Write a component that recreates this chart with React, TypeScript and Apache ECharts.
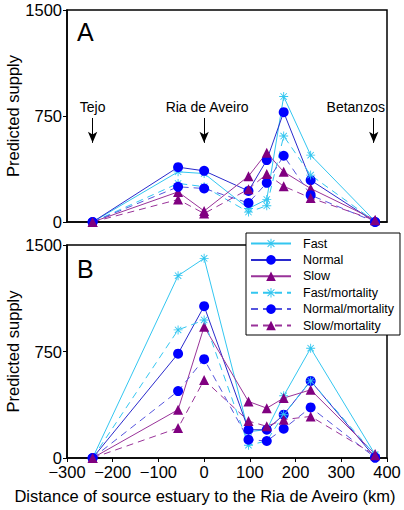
import React, { useEffect, useRef } from "react";
import * as echarts from "echarts";

const distanceKm = [-244, -57, 0, 97, 137, 174, 233, 374];
const seriesNames = ["Fast", "Normal", "Slow", "Fast/mortality", "Normal/mortality", "Slow/mortality"];

// Panel A
const aFast = [0, 355, 343, 95, 160, 888, 473, 5];
const aNormal = [0, 388, 362, 220, 438, 777, 296, 0];
const aSlow = [0, 213, 78, 324, 490, 355, 237, 15];
const aFastMort = [0, 273, 250, 70, 115, 608, 332, 3];
const aNormalMort = [0, 249, 237, 135, 277, 469, 190, 0];
const aSlowMort = [0, 159, 60, 232, 340, 253, 170, 12];

// Panel B
const bFast = [0, 1284, 1406, 185, 200, 438, 773, 25];
const bNormal = [0, 735, 1069, 199, 199, 305, 543, 3];
const bSlow = [0, 340, 925, 398, 351, 422, 480, 28];
const bFastMort = [0, 902, 972, 90, 120, 305, 543, 20];
const bNormalMort = [0, 471, 696, 129, 120, 206, 356, 3];
const bSlowMort = [0, 211, 550, 260, 223, 270, 293, 20];

const yTicks = [0, 750, 1500];
const xTicks = [-300, -200, -100, 0, 100, 200, 300, 400];

const estuaries = [
  { name: "Tejo", km: -244 },
  { name: "Ria de Aveiro", km: 0 },
  { name: "Betanzos", km: 371 },
];
const arrowTop = 736;
const arrowBottom = 560;

const FONT = "'Liberation Sans', Arial, sans-serif";
const STAR =
  "path://M9 0 H11 V20 H9 Z M0 9 H20 V11 H0 Z M2.2 3.6 L3.6 2.2 L17.8 16.4 L16.4 17.8 Z M16.4 2.2 L17.8 3.6 L3.6 17.8 L2.2 16.4 Z";

const styles = [
  { line: "#33c6f0", marker: "#33c6f0", symbol: STAR, size: 9, dashed: false },
  { line: "#2a2acc", marker: "#0000ff", symbol: "circle", size: 10, dashed: false },
  { line: "#993399", marker: "#800080", symbol: "triangle", size: 10, dashed: false },
  { line: "#33c6f0", marker: "#33c6f0", symbol: STAR, size: 9, dashed: true },
  { line: "#5555dd", marker: "#0000ff", symbol: "circle", size: 10, dashed: true },
  { line: "#993399", marker: "#800080", symbol: "triangle", size: 10, dashed: true },
];

export default function App() {
  const ref = useRef<HTMLDivElement>(null);
  useEffect(() => {
    if (!ref.current) return;
    const chart = echarts.init(ref.current, null, { renderer: "svg" });
    const panels = [
      [aFast, aNormal, aSlow, aFastMort, aNormalMort, aSlowMort],
      [bFast, bNormal, bSlow, bFastMort, bNormalMort, bSlowMort],
    ];
    const series: any[] = [];
    panels.forEach((vals, p) => {
      vals.forEach((v, i) => {
        const s = styles[i];
        series.push({
          type: "line",
          name: seriesNames[i],
          xAxisIndex: p,
          yAxisIndex: p,
          data: distanceKm.map((x, k) => [x, v[k]]),
          symbol: s.symbol,
          symbolSize: s.size,
          showAllSymbol: true,
          lineStyle: { color: s.line, width: 1, type: s.dashed ? [7, 5] : "solid" },
          itemStyle: { color: s.marker, borderWidth: 0 },
          emphasis: { disabled: true },
        });
      });
    });
    series.push({
      type: "line",
      name: "annotations",
      xAxisIndex: 0,
      yAxisIndex: 0,
      data: [],
      markLine: {
        silent: true,
        symbol: ["none", "arrow"],
        symbolSize: [7, 11],
        lineStyle: { color: "#000", width: 1, type: "solid" },
        label: {
          show: true,
          position: "start",
          formatter: "{b}",
          color: "#000",
          fontSize: 14,
          fontFamily: FONT,
          distance: 4,
        },
        data: estuaries.map((e) => [
          {
            name: e.name,
            coord: [e.km, arrowTop],
            label: e.name === "Betanzos" ? { offset: [-18, 0] } : e.name === "Ria de Aveiro" ? { offset: [3, 0] } : {},
          },
          { coord: [e.km, arrowBottom] },
        ]),
      },
    });

    const yAxis = (gi: number) => ({
      type: "value",
      gridIndex: gi,
      min: yTicks[0],
      max: yTicks[yTicks.length - 1],
      interval: 750,
      name: "Predicted supply",
      nameLocation: "middle",
      nameGap: 46,
      nameMoveOverlap: false,
      nameTextStyle: { fontSize: 16.5, color: "#000", fontFamily: FONT },
      axisLine: { show: true, onZero: false, lineStyle: { color: "#000", width: 1.5 } },
      axisTick: { show: true, length: 4, lineStyle: { color: "#000" } },
      axisLabel: { fontSize: 16.5, lineHeight: 12, color: "#000", fontFamily: FONT, margin: 5, formatter: (v: number) => String(v) },
      splitLine: { show: false },
    });
    const xAxis = (gi: number, labels: boolean) => ({
      type: "value",
      gridIndex: gi,
      min: xTicks[0],
      max: xTicks[xTicks.length - 1],
      interval: 100,
      name: labels ? "Distance of source estuary to the Ria de Aveiro (km)" : "",
      nameLocation: "middle",
      nameGap: 29,
      nameTextStyle: { fontSize: 16.5, color: "#000", fontFamily: FONT, padding: [0, 44, 0, 0] },
      axisLine: { show: true, onZero: false, lineStyle: { color: "#000", width: 1.5 } },
      axisTick: { show: labels, length: 4, lineStyle: { color: "#000" } },
      axisLabel: {
        show: labels,
        fontSize: 16.5,
        lineHeight: 14,
        color: "#000",
        fontFamily: FONT,
        margin: 7,
        formatter: (v: number) => (v < 0 ? "\u2212" + Math.abs(v) : String(v)),
      },
      splitLine: { show: false },
    });

    chart.setOption({
      animation: false,
      backgroundColor: "#fff",
      grid: [
        { left: 67, top: 10, width: 320, height: 212, show: true, borderColor: "#000", borderWidth: 1.5, backgroundColor: "transparent", outerBoundsMode: "none", containLabel: false },
        { left: 67, top: 245, width: 320, height: 213, show: true, borderColor: "#000", borderWidth: 1.5, backgroundColor: "transparent", outerBoundsMode: "none", containLabel: false },
      ],
      xAxis: [xAxis(0, false), xAxis(1, true)],
      yAxis: [yAxis(0), yAxis(1)],
      legend: {
        data: seriesNames,
        orient: "vertical",
        left: 246,
        top: 233,
        padding: [4, 6, 3, 4],
        itemWidth: 40,
        itemHeight: 12,
        itemGap: 3.4,
        backgroundColor: "#fff",
        borderColor: "#000",
        borderWidth: 1,
        borderRadius: 0,
        z: 10,
        selectedMode: false,
        textStyle: { fontSize: 12.5, color: "#000", fontFamily: FONT, padding: [0, 0, 0, 7] },
      },
      graphic: [
        { type: "text", left: 77, top: 19, style: { text: "A", fontSize: 25, fill: "#000", fontFamily: FONT } },
        { type: "text", left: 77, top: 256, style: { text: "B", fontSize: 25, fill: "#000", fontFamily: FONT } },
      ],
      series,
    });
    return () => chart.dispose();
  }, []);
  return <div ref={ref} style={{ position: "fixed", left: 0, top: 0, width: 404, height: 510 }} />;
}
